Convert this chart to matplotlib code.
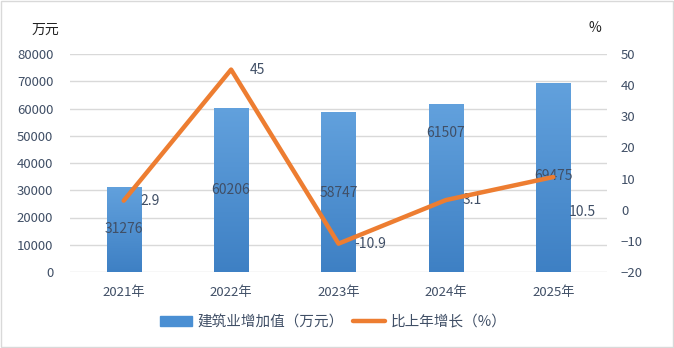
import numpy as np
import matplotlib
matplotlib.use("Agg")
import matplotlib.pyplot as plt

plt.rcParams['font.family'] = ['Noto Sans CJK SC', 'DejaVu Sans']

years = ["2021年", "2022年", "2023年", "2024年", "2025年"]
output_value = [31276, 60206, 58747, 61507, 69475]
growth_rate = [2.9, 45, -10.9, 3.1, 10.5]
bar_label_y = [15800, 30100, 29000, 51000, 35200]
rate_label_offset = [(19, 0), (19, 0), (23, 0), (19, 0), (21, -25)]

text_color = "#404F66"
grid_color = "#D9D9D9"
orange = "#ED7D31"

fig = plt.figure(figsize=(6.74, 3.48), dpi=100)
fig.patches.append(plt.Rectangle((0.002, 0.003), 0.996, 0.994, transform=fig.transFigure,
                                 fill=False, edgecolor="#D9D9D9", linewidth=1))
ax = fig.add_axes([70 / 674, 76 / 348, 537 / 674, 218 / 348])
ax2 = ax.twinx()

x = np.arange(len(years))
bars = ax.bar(x, output_value, width=0.32, color="#4A8FD3", zorder=2)

# vertical gradient on bars
grad = np.linspace(0, 1, 256).reshape(-1, 1)
cmap = matplotlib.colors.LinearSegmentedColormap.from_list("g", ["#3E80C4", "#62A1DD"])
for b in bars:
    im = ax.imshow(grad, cmap=cmap, aspect="auto", origin="lower", zorder=2,
                   extent=[b.get_x(), b.get_x() + b.get_width(), 0, b.get_height()])
    im.set_clip_path(b)

ax.set_xlim(-0.5, len(years) - 0.5)
ax.set_ylim(0, 80000)
ax.set_yticks(range(0, 80001, 10000))
ax.grid(axis="y", color=grid_color, linewidth=1, zorder=0)
ax.set_axisbelow(True)
for s in ax.spines.values():
    s.set_visible(False)
for s in ax2.spines.values():
    s.set_visible(False)
ax.tick_params(axis="both", length=0, colors=text_color, labelsize=9.5)
ax.tick_params(axis="y", pad=12)
ax.tick_params(axis="x", pad=10)
ax.set_xticks(x)
ax.set_xticklabels(years)

for i, v in enumerate(output_value):
    ax.text(x[i], bar_label_y[i], str(v), ha="center", va="center",
            color=text_color, fontsize=10, zorder=5)

ax2.plot(x, growth_rate, color=orange, linewidth=3.2, solid_capstyle="round", zorder=4)
ax2.set_ylim(-20, 50)
ax2.set_yticks(range(-20, 51, 10))
ax2.tick_params(axis="y", length=0, colors=text_color, labelsize=9.5, pad=10)
for i, v in enumerate(growth_rate):
    dx, dy = rate_label_offset[i]
    ax2.annotate(f"{v:g}", (x[i], v), xytext=(dx, dy), textcoords="offset points",
                 ha="center", va="center", color=text_color, fontsize=10)

fig.text(45 / 674, 1 - 30 / 348, "万元", ha="center", va="center", color="#222222", fontsize=10)
fig.text(595 / 674, 1 - 28 / 348, "%", ha="center", va="center", color="#222222", fontsize=10)

handles = [plt.Rectangle((0, 0), 1, 1, color="#4A8FD3"),
           plt.Line2D([0], [0], color=orange, linewidth=3.2, solid_capstyle="round")]
fig.legend(handles, ["建筑业增加值（万元）", "比上年增长（%）"], loc="center",
           bbox_to_anchor=(333 / 674, 1 - 322 / 348), ncol=2, frameon=False,
           fontsize=10.5, labelcolor=text_color, handlelength=2.2, columnspacing=0.6,
           handletextpad=0.4)

fig.savefig("out.png", dpi=100)
